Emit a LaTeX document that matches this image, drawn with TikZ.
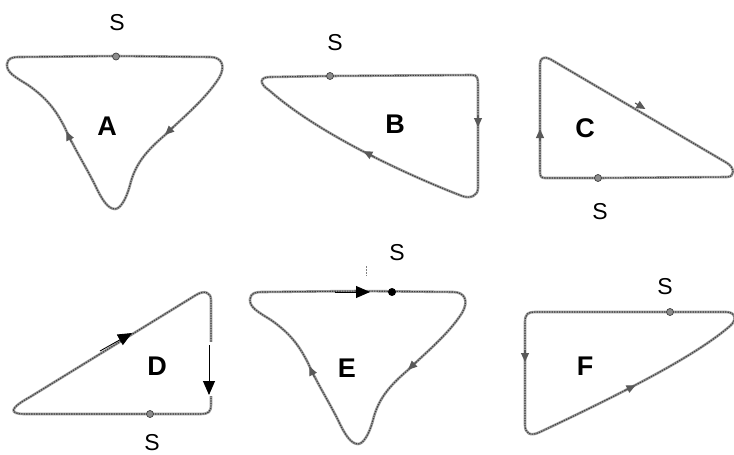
\documentclass[tikz,border=0pt]{standalone}
\usepackage{fontspec}
\setmainfont{Liberation Sans}
\usetikzlibrary{arrows.meta}
\tikzset{
  loopbase/.style={draw=black!38, line width=2.6pt, line join=round},
  looptex/.style={draw=black!75, line width=1.1pt, dash pattern=on 1.4pt off 1.1pt},
  loopline/.style={looptex, preaction={loopbase}},
  gtip/.style={draw=black!65, line width=1.2pt, -{Triangle[length=9pt,width=8pt]}, black!65},
  btip/.style={draw=black, line width=0.9pt, -{Triangle[length=14pt,width=12pt]}},
  sdot/.style={circle, fill=black!45, draw=black!75, line width=0.7pt, inner sep=0pt, minimum size=7pt},
  bigl/.style={font=\bfseries\fontsize{27}{27}\selectfont, inner sep=0pt},
  smalll/.style={font=\fontsize{23}{23}\selectfont, inner sep=0pt},
  shapeA/.pic={
    \path[loopline] (116,56) -- (210,57) .. controls (222,57) and (226,66) .. (219,78)
      .. controls (205,100) and (180,120) .. (165,135)
      .. controls (145,152) and (135,165) .. (130,185)
      .. controls (126,200) and (120,209) .. (115,209)
      .. controls (108,209) and (102,200) .. (95,185)
      .. controls (85,165) and (75,150) .. (65,128)
      .. controls (55,108) and (45,97) .. (28,85)
      .. controls (15,77) and (6,72) .. (7,64)
      .. controls (8,58) and (12,57) .. (20,57) -- cycle;
    \draw[gtip] (71.4,142.2) -- (66.3,131.4);
    \draw[gtip] (173.8,126.5) -- (165.1,134.8);
  }
}
\begin{document}
\begin{tikzpicture}[x=1pt,y=-1pt]
\useasboundingbox (0,0) rectangle (734,455);
\fill[white] (0,0) rectangle (734,455);

% ---------- A ----------
\pic (pa) at (0,0) {shapeA};
\node[sdot] (sa) at (116,56.5) {};
\node[smalll] (la) at (117,23) {S};
\node[bigl] (ta) at (107,126) {A};

% ---------- B ----------
\path[loopline] (330,76) -- (472,75) .. controls (477,75) and (478,78) .. (478,84)
  -- (478,188) .. controls (478,196) and (470,199) .. (462,196)
  .. controls (410,176) and (320,135) .. (270,91)
  .. controls (258,83) and (260,77) .. (270,77) -- cycle;
\draw[gtip] (478,115) -- (478,127);
\draw[gtip] (374.1,156.7) -- (363.4,151.2);
\node[sdot] (sb) at (330,76) {};
\node[smalll] (lb) at (335,43) {S};
\node[bigl] (tb) at (395,124) {B};

% ---------- C ----------
\path[loopline] (598,178) -- (545,178) .. controls (541,178) and (540,176) .. (540,172)
  -- (540,64) .. controls (540,58) and (544,56) .. (550,59)
  -- (727,163) .. controls (735,168) and (735,177) .. (727,177) -- cycle;
\draw[gtip] (635.1,103) -- (645.4,109);
\draw[gtip] (540,141) -- (540,129);
\node[sdot] (sc) at (598,178) {};
\node[smalll] (lc) at (600,212) {S};
\node[bigl] (tc) at (585,128) {C};

% ---------- D ----------
\path[loopline] (150,414) -- (200,414) .. controls (209,414) and (211,412) .. (211,404)
  -- (211,300) .. controls (211,292) and (204,290) .. (196,295)
  -- (30,397) .. controls (10,408) and (8,414) .. (25,414) -- cycle;
\node[sdot] (sd) at (150,414) {};
\fill[white] (203,342) rectangle (216,396);
\coordinate (d1) at (100,351);
\coordinate (d2) at (132,333);
\draw[btip] (d1) -- (d2);
\coordinate (d3) at (209,345);
\coordinate (d4) at (209,395);
\draw[btip] (d3) -- (d4);
\node[smalll] (ld) at (152,443) {S};
\node[bigl] (td) at (157,366) {D};

% ---------- E ----------
\pic (pe) at (243,235) {shapeA};
\coordinate (e1) at (335,292);
\coordinate (e2) at (370,292);
\draw[btip] (e1) -- (e2);
\node[circle, fill=black, inner sep=0pt, minimum size=8pt] (se) at (392,292) {};
\coordinate (t1) at (366,266);
\coordinate (t2) at (366,276);
\draw[black!50, line width=0.5pt, dash pattern=on 2pt off 1pt] (t1) -- (t2);
\node[smalll] (le) at (397,253) {S};
\node[bigl] (te) at (347,368) {E};

% ---------- F ----------
\path[loopline] (670,312) -- (726,312) .. controls (736,312) and (737,320) .. (730,326)
  .. controls (700,352) and (640,385) .. (540,432)
  .. controls (530,437) and (525,433) .. (525,425)
  -- (525,322) .. controls (525,314) and (528,312) .. (535,312) -- cycle;
\draw[gtip] (525,350) -- (525,362);
\draw[gtip] (624.8,390.5) -- (635.6,385.2);
\node[sdot] (sf) at (670,312) {};
\node[smalll] (lf) at (665,287) {S};
\node[bigl] (tf) at (585,366) {F};
\end{tikzpicture}
\end{document}
